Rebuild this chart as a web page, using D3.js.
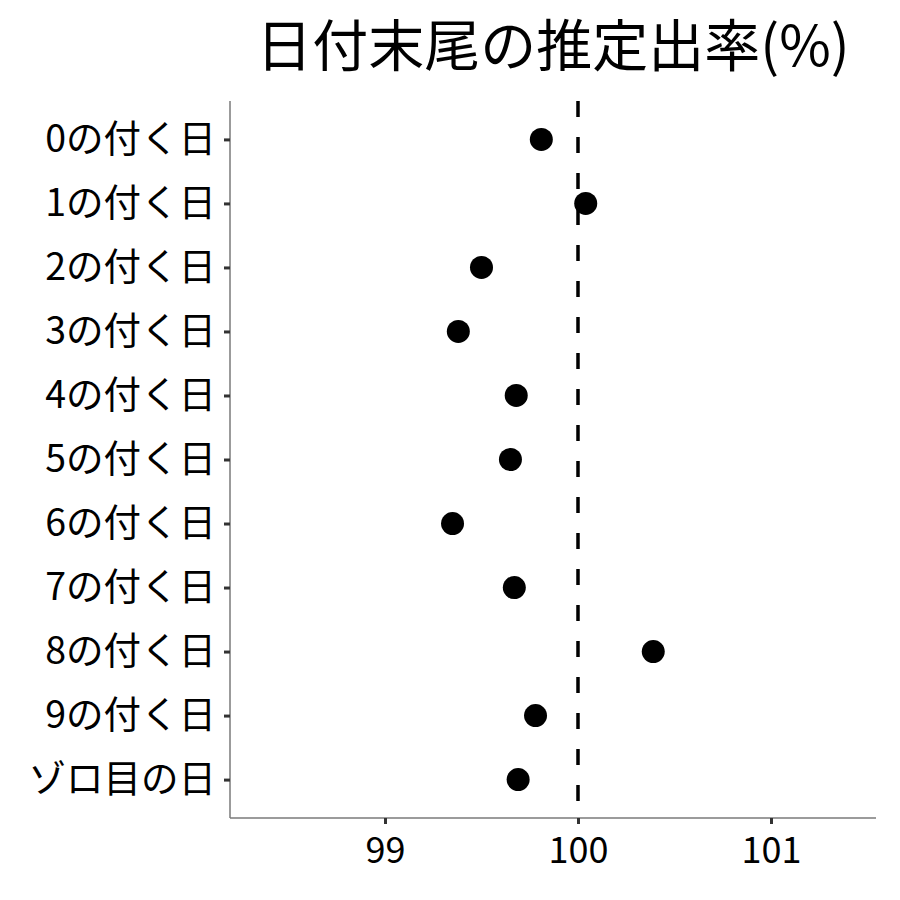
<!DOCTYPE html>
<html>
<head>
<meta charset="utf-8">
<script src="https://cdn.jsdelivr.net/npm/d3@7"></script>
<style>
  body { margin: 0; background: #fff; }
  text { font-family: "Noto Sans CJK JP", "Noto Sans", sans-serif; }
</style>
</head>
<body>
<script>
const w = 900;
const h = 900;

const categories = ['0の付く日', '1の付く日', '2の付く日', '3の付く日', '4の付く日', '5の付く日',
                    '6の付く日', '7の付く日', '8の付く日', '9の付く日', 'ゾロ目の日'];
const rates = [99.81, 100.04, 99.50, 99.38, 99.68, 99.65, 99.35, 99.67, 100.39, 99.78, 99.69];
const xTicks = [99, 100, 101];
const refValue = 100;

const plotLeft = 230, plotRight = 876, plotTop = 101, plotBottom = 818;

const svg = d3.select('body')
    .append('svg')
    .attr('width', w)
    .attr('height', h);

svg.append('text')
    .text('日付末尾の推定出率(%)')
    .attr('x', 553)
    .attr('y', 66)
    .attr('text-anchor', 'middle')
    .attr('font-size', 56)
    .attr('fill', '#000');

const xScale = d3.scaleLinear()
    .domain([98.197, 101.544])
    .range([plotLeft, plotRight]);

const yScale = d3.scalePoint()
    .domain(categories)
    .range([plotTop, plotBottom])
    .padding(0.6);

const xAxis = d3.axisBottom(xScale)
    .tickValues(xTicks)
    .tickFormat(d3.format('d'))
    .tickSize(6)
    .tickPadding(8)
    .tickSizeOuter(0);
const yAxis = d3.axisLeft(yScale)
    .tickSize(6)
    .tickPadding(8)
    .tickSizeOuter(0);

const gx = svg.append('g')
    .attr('transform', 'translate(0, ' + plotBottom + ')')
    .call(xAxis);
const gy = svg.append('g')
    .attr('transform', 'translate(' + plotLeft + ', 0)')
    .call(yAxis);

[gx, gy].forEach((g) => {
    g.select('.domain').attr('stroke', '#7a7a7a').attr('stroke-width', 1.5);
    g.selectAll('.tick line').attr('stroke', '#333').attr('stroke-width', 3);
    g.selectAll('.tick text')
        .attr('fill', '#000')
        .style('font-family', '"Noto Sans CJK JP", sans-serif');
});
gy.selectAll('.tick text').attr('font-size', 37.5);
gx.selectAll('.tick text').attr('font-size', 36).attr('dy', '0.85em');
gy.select('.domain').attr('d', 'M0,' + plotTop + 'V' + plotBottom);
gx.select('.domain').attr('d', 'M' + plotLeft + ',0H' + plotRight);

svg.append('line')
    .attr('x1', xScale(refValue))
    .attr('x2', xScale(refValue))
    .attr('y1', plotTop)
    .attr('y2', plotBottom)
    .attr('stroke', '#000')
    .attr('stroke-width', 3.5)
    .attr('stroke-dasharray', '16,20');

svg.selectAll('circle')
    .data(rates)
    .enter()
    .append('circle')
    .attr('cx', (d) => xScale(d))
    .attr('cy', (d, i) => yScale(categories[i]))
    .attr('r', 11.5)
    .attr('fill', '#000');
</script>
</body>
</html>
